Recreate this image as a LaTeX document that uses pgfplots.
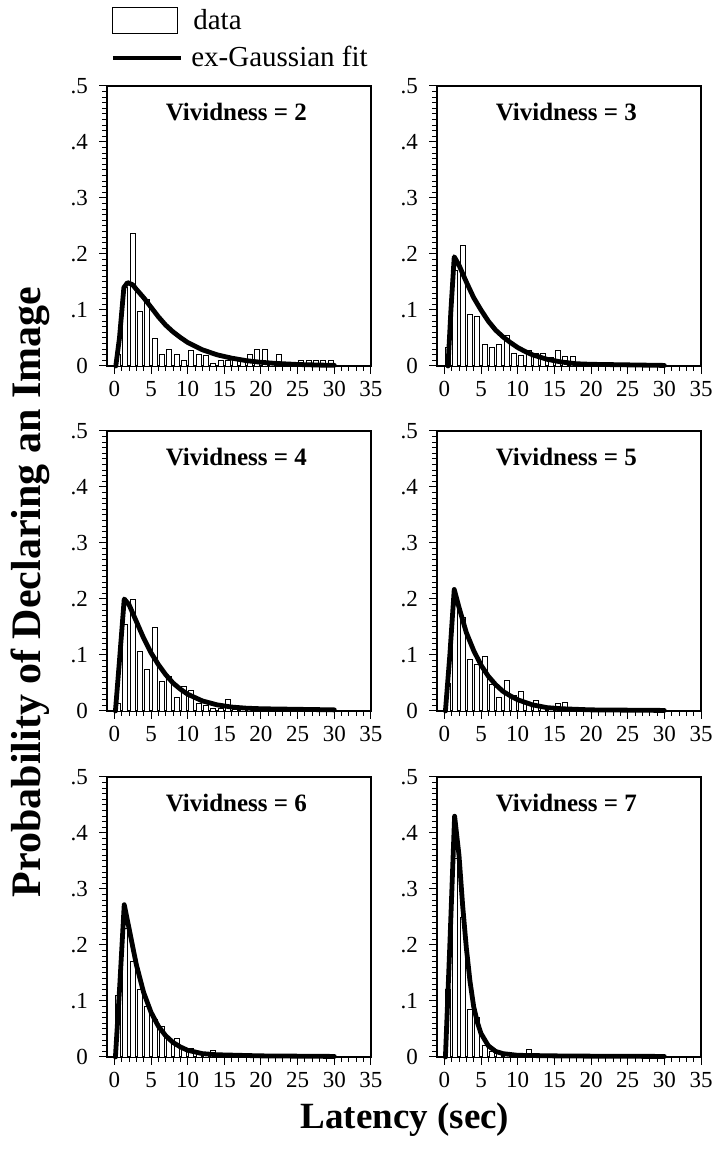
\documentclass[border=0pt]{standalone}
\usepackage{pgfplots}
\pgfplotsset{compat=1.18}
\usepackage{fontspec}
\setmainfont{Liberation Serif}
\tikzset{vtitle/.style={font=\bfseries\fontsize{12.5}{14}\selectfont}}
\pgfplotsset{
  panel/.style={
    scale only axis, width=132pt, height=140pt,
    xmin=-1, xmax=35, ymin=0, ymax=0.5,
    xtick={0,5,...,35}, minor x tick num=4,
    ytick={0,0.1,0.2,0.3,0.4,0.5},
    yticklabels={0,.1,.2,.3,.4,.5},
    minor y tick num=9,
    xtick pos=bottom, ytick pos=left,
    tick align=outside,
    major tick length=4pt, minor tick length=2.5pt,
    tick style={black, line width=0.5pt},
    axis line style={line width=0.7pt},
    /pgf/number format/assume math mode=true,
    tick label style={font=\fontsize{11.5}{12}\selectfont},
    xticklabel style={inner xsep=0pt},
    yticklabel style={xshift=-2pt},
    clip=false,
  },
  bars/.style={ybar, bar width=0.7, draw=black, fill=white, line width=0.45pt},
  fit/.style={black, line width=2.4pt, line join=round, line cap=round},
}
\begin{document}
\begin{tikzpicture}[x=1pt,y=1pt]
\useasboundingbox (0,0) rectangle (359,575);
% ---------- Vividness = 2
\begin{axis}[panel, at={(53.5pt,532pt)}, anchor=north west,
  legend style={at={(0.012,1.29)}, anchor=north west, draw=none, fill=none,
    font=\fontsize{14.5}{16}\selectfont, row sep=3pt, inner sep=0pt},
  legend cell align=left]
\addlegendimage{legend image code/.code={\draw[black, line width=0.5pt] (0pt,-6.5pt) rectangle (32.5pt,6.5pt);}}
\addlegendentry{\hspace{3pt}data}
\addlegendimage{legend image code/.code={\draw[black, line width=2.4pt] (0pt,0pt) -- (34pt,0pt);}}
\addlegendentry{\hspace{2pt}ex-Gaussian fit}
\addplot[bars] coordinates {(0.5,0.02)(1.5,0.14)(2.5,0.236)(3.5,0.098)(4.5,0.118)(5.5,0.049)(6.5,0.02)(7.5,0.029)(8.5,0.02)(9.5,0.009)(10.5,0.028)(11.5,0.02)(12.5,0.018)(13.5,0.004)(14.5,0.009)(15.5,0.009)(16.5,0.009)(17.5,0.009)(18.5,0.02)(19.5,0.029)(20.5,0.029)(21.5,0.004)(22.5,0.02)(23.5,0.004)(24.5,0.004)(25.5,0.009)(26.5,0.009)(27.5,0.009)(28.5,0.009)(29.5,0.01)};
\addplot[fit] coordinates {(0.2,0)(0.7,0.05)(1.3,0.14)(1.8,0.149)(2.5,0.145)(3,0.137)(4,0.122)(5,0.105)(6,0.088)(7,0.073)(8,0.061)(9,0.051)(10,0.042)(12,0.029)(14,0.02)(16,0.014)(18,0.0095)(20,0.0066)(22,0.0046)(25,0.0027)(28,0.0016)(30,0.0012)};
\node[vtitle] at (rel axis cs:0.49,0.907) {Vividness = 2};
\end{axis}
% ---------- Vividness = 3
\begin{axis}[panel, at={(218.5pt,532pt)}, anchor=north west]
\addplot[bars] coordinates {(0.5,0.033)(1.5,0.17)(2.5,0.215)(3.5,0.092)(4.5,0.088)(5.5,0.038)(6.5,0.033)(7.5,0.038)(8.5,0.055)(9.5,0.023)(10.5,0.019)(11.5,0.027)(12.5,0.022)(13.5,0.022)(14.5,0.016)(15.5,0.028)(16.5,0.017)(17.5,0.017)(18.5,0.003)(19.5,0.002)(20.5,0.002)(21.5,0.002)(22.5,0.003)(23.5,0.002)(24.5,0.002)(25.5,0.003)(26.5,0.004)(27.5,0.005)(28.5,0.003)};
\addplot[fit] coordinates {(0.5,0)(0.9,0.1)(1.35,0.195)(2,0.18)(3,0.15)(4,0.122)(5,0.1)(6,0.08)(7,0.064)(8,0.052)(9,0.042)(10,0.033)(11,0.026)(12,0.02)(14,0.012)(16,0.007)(18,0.004)(20,0.003)(25,0.002)(30,0.001)};
\node[vtitle] at (rel axis cs:0.49,0.907) {Vividness = 3};
\end{axis}
% ---------- Vividness = 4
\begin{axis}[panel, at={(53.5pt,359.5pt)}, anchor=north west]
\addplot[bars] coordinates {(0.5,0.014)(1.5,0.154)(2.5,0.2)(3.5,0.106)(4.5,0.074)(5.5,0.149)(6.5,0.052)(7.5,0.061)(8.5,0.024)(9.5,0.043)(10.5,0.0375)(11.5,0.014)(12.5,0.01)(13.5,0.005)(14.5,0.005)(15.5,0.02)(16.5,0.003)(17.5,0.003)(18.5,0.002)(19.5,0.003)(20.5,0.002)(21.5,0.003)(22.5,0.002)(23.5,0.003)(24.5,0.002)(25.5,0.003)(26.5,0.003)(27.5,0.003)(28.5,0.003)};
\addplot[fit] coordinates {(0.15,0)(0.7,0.09)(1.35,0.2)(2,0.19)(3,0.16)(4,0.13)(5,0.104)(6,0.083)(7,0.065)(8,0.05)(9,0.039)(10,0.03)(12,0.018)(14,0.011)(16,0.007)(18,0.005)(20,0.004)(25,0.003)(30,0.002)};
\node[vtitle] at (rel axis cs:0.49,0.907) {Vividness = 4};
\end{axis}
% ---------- Vividness = 5
\begin{axis}[panel, at={(218.5pt,359.5pt)}, anchor=north west]
\addplot[bars] coordinates {(0.5,0.05)(1.5,0.19)(2.5,0.167)(3.5,0.092)(4.5,0.083)(5.5,0.098)(6.5,0.048)(7.5,0.025)(8.5,0.054)(9.5,0.027)(10.5,0.035)(11.5,0.015)(12.5,0.019)(13.5,0.009)(14.5,0.007)(15.5,0.013)(16.5,0.015)(17.5,0.002)(18.5,0.002)(19.5,0.002)(20.5,0.002)(21.5,0.002)(22.5,0.002)(23.5,0.002)(24.5,0.002)(25.5,0.002)(26.5,0.002)(27.5,0.002)(28.5,0.002)};
\addplot[fit] coordinates {(0.15,0)(0.75,0.1)(1.35,0.217)(2,0.185)(3,0.14)(4,0.108)(5,0.082)(6,0.062)(7,0.047)(8,0.035)(9,0.027)(10,0.02)(12,0.011)(14,0.006)(16,0.004)(20,0.002)(25,0.0015)(30,0.001)};
\node[vtitle] at (rel axis cs:0.49,0.907) {Vividness = 5};
\end{axis}
% ---------- Vividness = 6
\begin{axis}[panel, at={(53.5pt,186.5pt)}, anchor=north west]
\addplot[bars] coordinates {(0.5,0.11)(1.5,0.23)(2.5,0.17)(3.5,0.12)(4.5,0.09)(5.5,0.067)(6.5,0.055)(7.5,0.031)(8.5,0.034)(9.5,0.016)(10.5,0.015)(11.5,0.005)(12.5,0.005)(13.5,0.011)(14.5,0.003)(15.5,0.003)(16.5,0.006)(17.5,0.002)(18.5,0.002)(19.5,0.002)(20.5,0.002)(21.5,0.002)(22.5,0.002)(23.5,0.002)(24.5,0.002)(25.5,0.002)(26.5,0.002)(27.5,0.002)(28.5,0.002)};
\addplot[fit] coordinates {(0.15,0)(0.75,0.13)(1.35,0.272)(2,0.23)(3,0.165)(4,0.115)(5,0.08)(6,0.055)(7,0.038)(8,0.026)(9,0.018)(10,0.012)(12,0.006)(14,0.004)(17,0.003)(20,0.002)(25,0.0015)(30,0.001)};
\node[vtitle] at (rel axis cs:0.49,0.907) {Vividness = 6};
\end{axis}
% ---------- Vividness = 7
\begin{axis}[panel, at={(218.5pt,186.5pt)}, anchor=north west]
\addplot[bars] coordinates {(0.5,0.12)(1.5,0.355)(2.5,0.25)(3.5,0.085)(4.5,0.071)(5.5,0.02)(6.5,0.01)(7.5,0.008)(8.5,0.005)(9.5,0.006)(10.5,0.003)(11.5,0.013)(12.5,0.002)(13.5,0.002)(14.5,0.002)(15.5,0.002)(16.5,0.002)(17.5,0.002)(18.5,0.002)(19.5,0.002)(20.5,0.002)(21.5,0.002)(22.5,0.002)(23.5,0.002)(24.5,0.002)(25.5,0.002)(26.5,0.002)(27.5,0.002)(28.5,0.002)};
\addplot[fit] coordinates {(0.15,0)(0.75,0.2)(1.4,0.43)(2,0.36)(2.5,0.27)(3,0.195)(3.5,0.135)(4,0.09)(4.5,0.062)(5,0.042)(6,0.02)(7,0.01)(8,0.006)(10,0.003)(15,0.002)(20,0.0015)(30,0.001)};
\node[vtitle] at (rel axis cs:0.49,0.907) {Vividness = 7};
\end{axis}
\node[rotate=90, font=\bfseries\fontsize{21}{23}\selectfont] at (15,279) {Probability of Declaring an Image};
\node[font=\bfseries\fontsize{18.5}{20}\selectfont] at (202.5,15) {Latency (sec)};
\end{tikzpicture}
\end{document}
